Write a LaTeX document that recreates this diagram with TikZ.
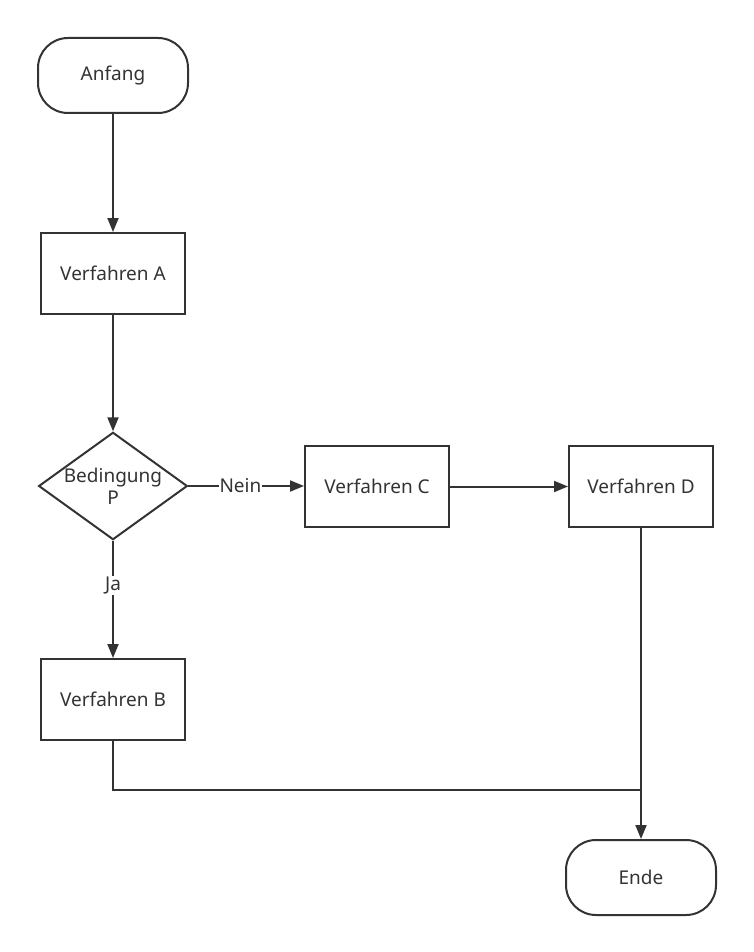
\documentclass[tikz,border=0pt]{standalone}
\usepackage{fontspec}
\setmainfont{Noto Sans}
\usetikzlibrary{shapes.geometric,arrows.meta}
\definecolor{ln}{HTML}{333333}
\begin{document}
\begin{tikzpicture}[x=1pt,y=-1pt,
  box/.style={draw=ln,line width=2pt,minimum width=144pt,minimum height=81pt,inner sep=0pt,font=\fontsize{19}{22}\selectfont,text=ln},
  term/.style={box,rounded corners=30pt,minimum width=150pt,minimum height=75pt},
  dec/.style={draw=ln,line width=2pt,diamond,aspect=1.385,minimum width=144pt,minimum height=104pt,inner sep=0pt,font=\fontsize{19}{22}\selectfont,text=ln,align=center},
  arr/.style={draw=ln,line width=2pt,-{Triangle[length=14pt,width=11pt]}},
  ln/.style={draw=ln,line width=2pt},
  lab/.style={fill=white,inner sep=1pt,font=\fontsize{19}{22}\selectfont,text=ln}]
\useasboundingbox (0,0) rectangle (753,952);
\node[term] (start) at (113,75.5) {Anfang};
\node[box] (a) at (113,273.5) {Verfahren A};
\node[dec] (p) at (113,486) {Bedingung\\P};
\node[box] (c) at (377,486.5) {Verfahren C};
\node[box] (d) at (641,486.5) {Verfahren D};
\node[box] (b) at (113,699.5) {Verfahren B};
\node[term] (end) at (641,877.5) {Ende};
\coordinate (j) at (641,790);
\draw[arr] (start) -- (a);
\draw[arr] (a) -- (p);
\draw[arr] (p.east) -- node[lab,pos=0.45]{Nein} (p.east -| c.west);
\draw[arr] (c) -- (d);
\draw[arr] (p) -- node[lab,pos=0.38]{Ja} (b);
\draw[arr] (d) -- (end);
\draw[ln] (b.south) |- (j);
\end{tikzpicture}
\end{document}
